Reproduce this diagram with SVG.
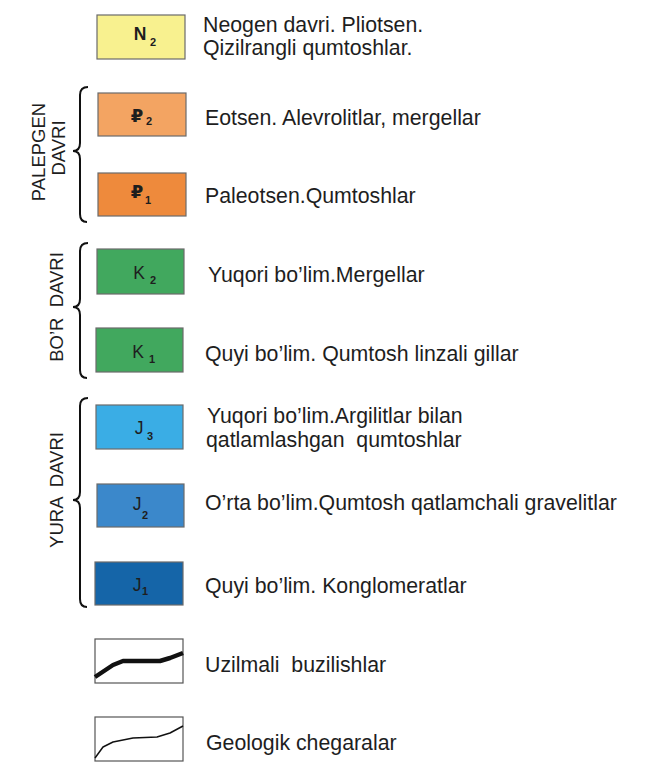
<svg xmlns="http://www.w3.org/2000/svg" width="652" height="762" viewBox="0 0 652 762">
<style>
  .box { stroke: #6b6b6b; stroke-width: 1.2; }
  .lbl { font-family: "Liberation Sans", Arial, "DejaVu Sans", sans-serif; font-size: 17.5px; fill: #1e1e1e; text-anchor: middle; }
  .rub { font-family: "DejaVu Sans", "Liberation Sans", sans-serif; font-size: 18px; font-weight: bold; fill: #1e1e1e; text-anchor: middle; }
  .sub { font-family: "Liberation Sans", Arial, sans-serif; font-size: 11px; font-weight: bold; fill: #1e1e1e; }
  .txt { font-family: "Liberation Sans", Arial, sans-serif; font-size: 21.3px; fill: #1e1e1e; white-space: pre; }
  .rot { font-family: "Liberation Sans", Arial, sans-serif; font-size: 18.5px; fill: #1e1e1e; text-anchor: middle; white-space: pre; }
  .brace { fill: none; stroke: #111; stroke-width: 2; }
</style>
<rect width="652" height="762" fill="#ffffff"/>

<g id="N2">
  <rect class="box" x="97" y="15" width="88" height="44" fill="#f8f18f"/>
  <text class="lbl" x="140" y="40" font-size="18" font-weight="bold">N</text>
  <text class="sub" x="150" y="46">2</text>
  <text class="txt" x="203" y="32">Neogen davri. Pliotsen.</text>
  <text class="txt" x="203" y="55">Qizilrangli qumtoshlar.</text>
</g>

<g id="P2">
  <rect class="box" x="98" y="93" width="88" height="43" fill="#f3a462"/>
  <text class="rub" x="137" y="122">₽</text>
  <text class="sub" x="146" y="125">2</text>
  <text class="txt" x="205" y="125">Eotsen. Alevrolitlar, mergellar</text>
</g>

<g id="P1">
  <rect class="box" x="98" y="173" width="88" height="43" fill="#ee8a3c"/>
  <text class="rub" x="137" y="198">₽</text>
  <text class="sub" x="145" y="204">1</text>
  <text class="txt" x="205" y="203">Paleotsen.Qumtoshlar</text>
</g>

<g id="K2">
  <rect class="box" x="97" y="249" width="87" height="45" fill="#41a85e"/>
  <text class="lbl" x="139" y="279">K</text>
  <text class="sub" x="150" y="284">2</text>
  <text class="txt" x="208" y="282">Yuqori bo’lim.Mergellar</text>
</g>

<g id="K1">
  <rect class="box" x="96" y="328" width="87" height="44" fill="#41a85e"/>
  <text class="lbl" x="138" y="358">K</text>
  <text class="sub" x="149" y="363">1</text>
  <text class="txt" x="205" y="361">Quyi bo’lim. Qumtosh linzali gillar</text>
</g>

<g id="J3">
  <rect class="box" x="96" y="405" width="87" height="44" fill="#3aade5"/>
  <text class="lbl" x="139" y="434">J</text>
  <text class="sub" x="147" y="440" font-size="9.5">3</text>
  <text class="txt" x="207" y="423">Yuqori bo’lim.Argilitlar bilan</text>
  <text class="txt" x="206" y="447">qatlamlashgan  qumtoshlar</text>
</g>

<g id="J2">
  <rect class="box" x="97" y="484" width="87" height="43" fill="#3b88cb"/>
  <text class="lbl" x="137" y="510">J</text>
  <text class="sub" x="142" y="519" font-size="9.5">2</text>
  <text class="txt" x="205" y="510">O’rta bo’lim.Qumtosh qatlamchali gravelitlar</text>
</g>

<g id="J1">
  <rect class="box" x="95" y="562" width="88" height="43" fill="#1565a8"/>
  <text class="lbl" x="137" y="591">J</text>
  <text class="sub" x="142" y="595" font-size="9.5">1</text>
  <text class="txt" x="205" y="593">Quyi bo’lim. Konglomeratlar</text>
</g>

<g id="fault-legend">
  <rect x="95" y="639" width="88" height="44" fill="#ffffff" stroke="#555" stroke-width="1.2"/>
  <polyline points="95,677 113,665 123,661 160,661 170,658 183,653" fill="none" stroke="#111" stroke-width="4.5" stroke-linejoin="round"/>
  <text class="txt" x="205" y="672">Uzilmali  buzilishlar</text>
</g>

<g id="boundary-legend">
  <rect x="95" y="717" width="88" height="44" fill="#ffffff" stroke="#555" stroke-width="1.2"/>
  <polyline points="95,758 103,747 113,742 133,738 157,737 170,733 183,726" fill="none" stroke="#111" stroke-width="1.5" stroke-linejoin="round"/>
  <text class="txt" x="206" y="750">Geologik chegaralar</text>
</g>

<g id="period-labels">
  <text class="rot" transform="translate(45,152) rotate(-90)">PALEPGEN</text>
  <text class="rot" transform="translate(65,148) rotate(-90)">DAVRI</text>
  <text class="rot" transform="translate(63,307) rotate(-90)">BO’R  DAVRI</text>
  <text class="rot" transform="translate(63,490) rotate(-90)" font-size="21">YURA  DAVRI</text>
</g>

<g id="connectors">
  <path class="brace" d="M88,87 Q80,87 80,95 L80,143 Q80,151 73,151 Q80,151 80,159 L80,214 Q80,222 87,222"/>
  <path class="brace" d="M88,243 Q80,243 80,251 L80,299 Q80,307 73,307 Q80,307 80,315 L80,370 Q80,378 87,378"/>
  <path class="brace" d="M88,398 Q80,398 80,406 L80,492 Q80,500 73,500 Q80,500 80,508 L80,599 Q80,607 87,607"/>
</g>
</svg>
